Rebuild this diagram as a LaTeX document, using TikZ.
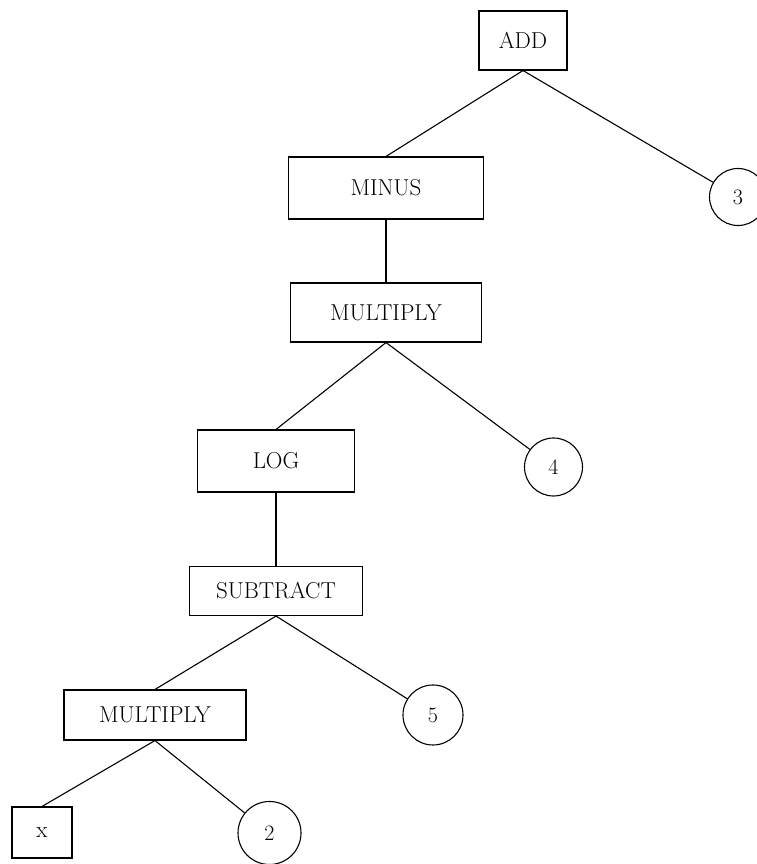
\documentclass[tikz,border=0pt]{standalone}
\tikzset{>=stealth}
\usetikzlibrary{shapes,positioning}
\colorlet{background}{white}
\tikzset{
  opbox/.style={draw, rectangle, line width=1.1pt, inner sep=0pt,
    font=\fontsize{23}{27}\selectfont},
  numcirc/.style={draw, circle, line width=1.1pt, inner sep=0pt,
    minimum size=#1, font=\fontsize{22}{26}\selectfont},
  branch/.style={line width=1.1pt}
}

\begin{document}
\begin{tikzpicture}[x=1pt,y=1pt]
    \useasboundingbox (0,0) rectangle (757,864);
    % operators
    \node[opbox, minimum width=88pt, minimum height=59pt] (add) at (523,823.5) {ADD};
    \node[opbox, minimum width=195pt, minimum height=62pt] (minus) at (386,676) {MINUS};
    \node[opbox, minimum width=191pt, minimum height=59pt] (mult) at (386,551.5) {MULTIPLY};
    \node[opbox, minimum width=157pt, minimum height=62pt] (log) at (276,403) {LOG};
    \node[opbox, minimum width=173pt, minimum height=49pt] (sub) at (276,273) {SUBTRACT};
    \node[opbox, minimum width=182pt, minimum height=50pt] (multb) at (155,149) {MULTIPLY};
    \node[opbox, minimum width=60pt, minimum height=51pt] (xvar) at (42,31.5) {x};
    % constants
    \node[numcirc=57pt] (three) at (738,667) {3};
    \node[numcirc=58pt] (four) at (553.5,397) {4};
    \node[numcirc=60pt] (five) at (433,149) {5};
    \node[numcirc=63pt] (two) at (269.5,31) {2};
    % branches
    \draw[branch] (add.south) -- (minus.north);
    \draw[branch] (add.south) -- (three);
    \draw[branch] (minus.south) -- (mult.north);
    \draw[branch] (mult.south) -- (log.north);
    \draw[branch] (mult.south) -- (four);
    \draw[branch] (log.south) -- (sub.north);
    \draw[branch] (sub.south) -- (multb.north);
    \draw[branch] (sub.south) -- (five);
    \draw[branch] (multb.south) -- (xvar.north);
    \draw[branch] (multb.south) -- (two);
\end{tikzpicture}
\end{document}
